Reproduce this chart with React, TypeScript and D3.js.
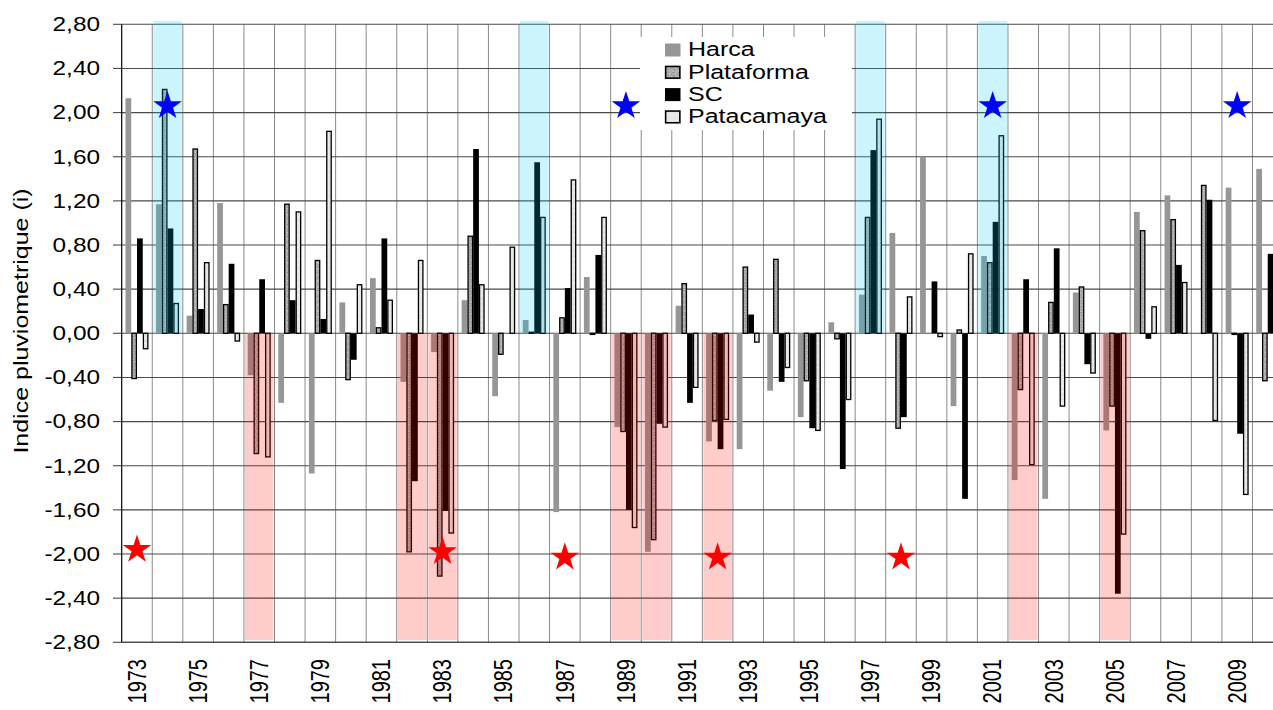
import React from 'react';
import * as d3 from 'd3';

const years = [1973, 1974, 1975, 1976, 1977, 1978, 1979, 1980, 1981, 1982, 1983, 1984, 1985, 1986, 1987, 1988, 1989, 1990, 1991, 1992, 1993, 1994, 1995, 1996, 1997, 1998, 1999, 2000, 2001, 2002, 2003, 2004, 2005, 2006, 2007, 2008, 2009, 2010];

const harca = [2.13, 1.17, 0.16, 1.18, -0.38, -0.63, -1.27, 0.28, 0.5, -0.44, -0.17, 0.3, -0.57, 0.12, -1.62, 0.51, -0.85, -1.98, 0.25, -0.98, -1.05, -0.52, -0.76, 0.1, 0.35, 0.91, 1.6, -0.66, 0.7, -1.33, -1.5, 0.37, -0.88, 1.1, 1.25, 0, 1.32, 1.49];
const plataforma = [-0.41, 2.21, 1.67, 0.26, -1.09, 1.17, 0.66, -0.42, 0.05, -1.98, -2.2, 0.88, -0.19, 0.01, 0.14, -0.01, -0.89, -1.87, 0.45, -0.79, 0.6, 0.67, -0.43, -0.05, 1.05, -0.86, 0, 0.03, 0.64, -0.51, 0.28, 0.42, -0.66, 0.93, 1.03, 1.34, -0.01, -0.43];
const sc = [0.86, 0.95, 0.22, 0.63, 0.49, 0.3, 0.13, -0.24, 0.86, -1.34, -1.61, 1.67, 0, 1.55, 0.41, 0.71, -1.6, -0.82, -0.63, -1.05, 0.17, -0.44, -0.86, -1.23, 1.66, -0.76, 0.47, -1.5, 1.01, 0.49, 0.77, -0.28, -2.36, -0.05, 0.62, 1.21, -0.91, 0.72];
const patacamaya = [-0.14, 0.27, 0.64, -0.07, -1.12, 1.1, 1.83, 0.44, 0.3, 0.66, -1.81, 0.44, 0.78, 1.05, 1.39, 1.05, -1.76, -0.85, -0.49, -0.78, -0.08, -0.31, -0.88, -0.6, 1.94, 0.33, -0.03, 0.72, 1.79, -1.19, -0.66, -0.36, -1.82, 0.24, 0.46, -0.79, -1.46, 0];

const seriesNames = ['Harca', 'Plataforma', 'SC', 'Patacamaya'];

const yTickValues = [-2.8, -2.4, -2.0, -1.6, -1.2, -0.8, -0.4, 0, 0.4, 0.8, 1.2, 1.6, 2.0, 2.4, 2.8];
const xLabelYears = [1973, 1975, 1977, 1979, 1981, 1983, 1985, 1987, 1989, 1991, 1993, 1995, 1997, 1999, 2001, 2003, 2005, 2007, 2009];

const wetYears = [1974, 1986, 1997, 2001];
const dryYears = [1977, 1982, 1983, 1989, 1990, 1992, 2002, 2005];

const blueStarYears = [1974, 1989, 2001, 2009];
const blueStarValues = [2.06, 2.06, 2.06, 2.06];
const redStarYears = [1973, 1983, 1987, 1992, 1998];
const redStarValues = [-1.96, -1.98, -2.03, -2.03, -2.03];

const W = 1273;
const H = 710;
const plotLeft = 121.7;
const plotRight = 1283;
const plotTop = 24.3;
const plotBottom = 642.3;
const FONT = "'Liberation Sans', Arial, Helvetica, sans-serif";
const SX = 1.25;

const locale = d3.formatLocale({ decimal: ',', thousands: '.', grouping: [3], currency: ['', ''], minus: '-' });
const fmt = locale.format('.2f');

export default function App() {
  const x0 = d3.scaleBand<string>().domain(years.map(String)).range([plotLeft, plotRight]);
  const x1 = d3.scaleBand<string>().domain(seriesNames).range([3.8, 26.8]);
  const y = d3.scaleLinear().domain([-2.8, 2.8]).range([plotBottom, plotTop]);
  const bw = x0.bandwidth();

  const seriesData: Record<string, number[]> = {
    Harca: harca,
    Plataforma: plataforma,
    SC: sc,
    Patacamaya: patacamaya,
  };
  const seriesStyle: Record<string, { fill: string; stroke: string; sw: number }> = {
    Harca: { fill: '#969696', stroke: 'none', sw: 0 },
    Plataforma: { fill: 'url(#platPat)', stroke: '#000', sw: 1.3 },
    SC: { fill: '#000', stroke: 'none', sw: 0 },
    Patacamaya: { fill: 'url(#pataPat)', stroke: '#000', sw: 1.3 },
  };

  const starPath = d3.symbol().type(d3.symbolStar).size(253)() as string;
  const zero = y(0);

  const boundaries = years.map((yr) => x0(String(yr)) as number).concat([plotRight]);

  return (
    <svg width={W} height={H} style={{ position: 'absolute', left: 0, top: 0, background: '#fff' }}>
      <defs>
        <pattern id="platPat" width="6" height="6" patternUnits="userSpaceOnUse">
          <rect width="6" height="6" fill="#acacac" />
          <rect x="0" y="0" width="2" height="1" fill="#959595" />
          <rect x="3" y="1" width="1" height="2" fill="#c4c4c4" />
          <rect x="1" y="3" width="2" height="1" fill="#9a9a9a" />
          <rect x="4" y="4" width="2" height="1" fill="#bdbdbd" />
          <rect x="5" y="2" width="1" height="1" fill="#8f8f8f" />
          <rect x="0" y="5" width="1" height="1" fill="#c8c8c8" />
        </pattern>
        <pattern id="pataPat" width="6" height="6" patternUnits="userSpaceOnUse">
          <rect width="6" height="6" fill="#e6e6e6" />
          <rect x="0" y="1" width="2" height="1" fill="#f4f4f4" />
          <rect x="3" y="4" width="1" height="1" fill="#d8d8d8" />
          <rect x="4" y="0" width="1" height="2" fill="#f1f1f1" />
        </pattern>
      </defs>
      <rect x={0} y={0} width={W} height={H} fill="#fff" />

      {/* vertical gridlines */}
      {boundaries.slice(1).map((bx, i) => (
        <line key={'vg' + i} x1={bx} x2={bx} y1={plotTop} y2={plotBottom} stroke="#8a8a8a" strokeWidth={1} />
      ))}
      {/* horizontal gridlines */}
      {yTickValues.map((v) => (
        <line key={'hg' + v} x1={plotLeft} x2={plotRight} y1={y(v)} y2={y(v)} stroke="#4a4a4a" strokeWidth={1.1} />
      ))}
      {/* y ticks */}
      {yTickValues.map((v) => (
        <line key={'yt' + v} x1={113} x2={plotLeft} y1={y(v)} y2={y(v)} stroke="#4a4a4a" strokeWidth={1.1} />
      ))}

      {/* bars */}
      {seriesNames.map((name) =>
        seriesData[name].map((v, i) => {
          const bx = (x0(String(years[i])) as number) + (x1(name) as number);
          const y1 = y(Math.max(v, 0));
          const y2 = y(Math.min(v, 0));
          const st = seriesStyle[name];
          const inset = st.sw ? st.sw / 2 : 0;
          return (
            <rect
              key={name + i}
              x={bx + inset}
              y={y1}
              width={x1.bandwidth() - inset * 2}
              height={Math.max(y2 - y1, 0)}
              fill={st.fill}
              stroke={st.stroke}
              strokeWidth={st.sw}
            />
          );
        })
      )}

      {/* shading */}
      {wetYears.map((yr) => (
        <rect
          key={'w' + yr}
          x={(x0(String(yr)) as number) + 1}
          y={y(2.83)}
          width={bw - 2}
          height={zero - y(2.83)}
          fill="rgb(0,200,240)"
          fillOpacity={0.2}
        />
      ))}
      {dryYears.map((yr) => (
        <rect
          key={'d' + yr}
          x={(x0(String(yr)) as number) + 1}
          y={zero}
          width={bw - 2}
          height={y(-2.78) - zero}
          fill="#ff0000"
          fillOpacity={0.2}
        />
      ))}

      {/* axes */}
      <line x1={plotLeft} x2={plotLeft} y1={plotTop} y2={plotBottom} stroke="#000" strokeWidth={1.2} />
      <line x1={plotLeft} x2={plotRight} y1={plotBottom} y2={plotBottom} stroke="#4a4a4a" strokeWidth={1.2} />

      {/* stars */}
      {blueStarYears.map((yr, i) => (
        <path
          key={'bs' + yr}
          d={starPath}
          transform={`translate(${(x0(String(yr)) as number) + bw / 2},${y(blueStarValues[i])})`}
          fill="#0000ff"
        />
      ))}
      {redStarYears.map((yr, i) => (
        <path
          key={'rs' + yr}
          d={starPath}
          transform={`translate(${(x0(String(yr)) as number) + bw / 2},${y(redStarValues[i])})`}
          fill="#ff0000"
        />
      ))}

      {/* y tick labels */}
      {yTickValues.map((v) => (
        <text
          key={'yl' + v}
          transform={`translate(100,${y(v)}) scale(${SX},1)`}
          textAnchor="end"
          dy="0.35em"
          fontFamily={FONT}
          fontSize={19.5}
          fill="#000"
        >
          {fmt(v)}
        </text>
      ))}

      {/* x tick labels */}
      {xLabelYears.map((yr) => (
        <text
          key={'xl' + yr}
          transform={`translate(${(x0(String(yr)) as number) + bw / 2},659) scale(${SX},1) rotate(-90)`}
          textAnchor="end"
          dy="0.35em"
          fontFamily={FONT}
          fontSize={20}
          fill="#000"
        >
          {yr}
        </text>
      ))}

      {/* y title */}
      <text
        transform={`translate(21,321) rotate(-90) scale(1.25,1)`}
        textAnchor="middle"
        dy="0.35em"
        fontFamily={FONT}
        fontSize={20}
        fill="#000"
      >
        Indice pluviometrique (i)
      </text>

      {/* legend */}
      <rect x={640} y={37} width={212} height={93} fill="#fff" />
      {seriesNames.map((name, i) => {
        const cy = 50 + i * 22.3;
        const st = seriesStyle[name];
        return (
          <g key={'lg' + name}>
            <rect
              x={665 + (st.sw ? st.sw / 2 : 0)}
              y={cy - 6.5 + (st.sw ? st.sw / 2 : 0)}
              width={15.5 - (st.sw ? st.sw : 0)}
              height={13 - (st.sw ? st.sw : 0)}
              fill={st.fill}
              stroke={st.stroke}
              strokeWidth={st.sw ? 1.6 : 0}
            />
            <text
              transform={`translate(688,${cy + 6.3}) scale(${SX},1)`}
              fontFamily={FONT}
              fontSize={20}
              fill="#000"
            >
              {name}
            </text>
          </g>
        );
      })}
    </svg>
  );
}
